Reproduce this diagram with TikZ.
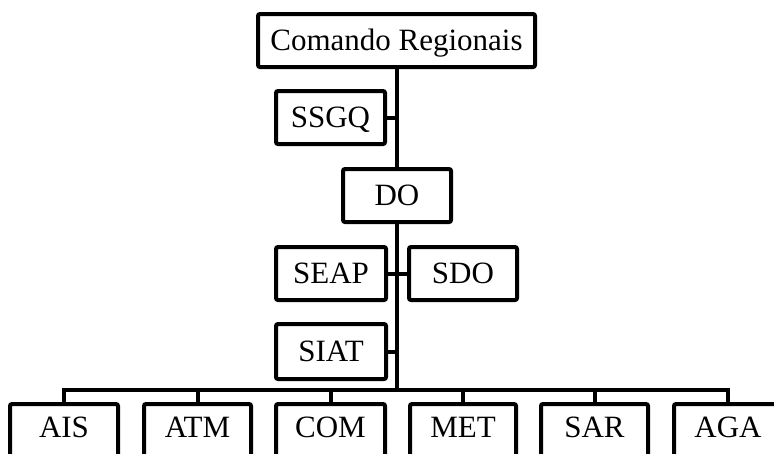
\documentclass[tikz,border=0pt]{standalone}
\usepackage{fontspec}
\setmainfont{Liberation Serif}
\begin{document}
\begin{tikzpicture}[x=1pt,y=-1pt,
  box/.style={draw,line width=4pt,rounded corners=2pt,inner sep=0pt,
    minimum height=53pt,text height=20.5pt,text depth=0pt,
    font=\fontsize{31}{31}\selectfont},
  lowbox/.style={box,text depth=6pt},
  conn/.style={line width=4pt}]
\useasboundingbox (0,0) rectangle (774,453);
\node[box,minimum width=277pt] (top) at (396.5,40.5) {Comando Regionais};
\node[box,minimum width=109pt] (ssgq) at (330.5,117.5) {SSGQ};
\node[box,minimum width=108pt] (do) at (397,195.5) {DO};
\node[box,minimum width=110pt] (seap) at (331,273.5) {SEAP};
\node[box,minimum width=108pt] (sdo) at (463,273.5) {SDO};
\node[box,minimum width=110pt,minimum height=55pt] (siat) at (331,351.5) {SIAT};
\coordinate (bus) at (397,390);
\node[lowbox,minimum width=108pt] (ais) at (64,430.5) {AIS};
\node[lowbox,minimum width=107pt] (atm) at (197.5,430.5) {ATM};
\node[lowbox,minimum width=109pt] (com) at (330.5,430.5) {COM};
\node[lowbox,minimum width=106pt] (met) at (463,430.5) {MET};
\node[lowbox,minimum width=107pt] (sar) at (594.5,430.5) {SAR};
\node[lowbox,minimum width=108pt] (aga) at (728,430.5) {AGA};
\draw[conn] (top.south -| do.north) -- (do.north);
\draw[conn] (ssgq.east) -- (ssgq.east -| do.north);
\draw[conn] (do.south) -- (bus);
\draw[conn] (seap.east) -- (sdo.west);
\draw[conn] (siat.east) -- (siat.east -| do.south);
\draw[conn] (ais.north) |- (bus) -| (aga.north);
\draw[conn] (atm.north) -- (atm.north |- bus);
\draw[conn] (com.north) -- (com.north |- bus);
\draw[conn] (met.north) -- (met.north |- bus);
\draw[conn] (sar.north) -- (sar.north |- bus);
\end{tikzpicture}
\end{document}
